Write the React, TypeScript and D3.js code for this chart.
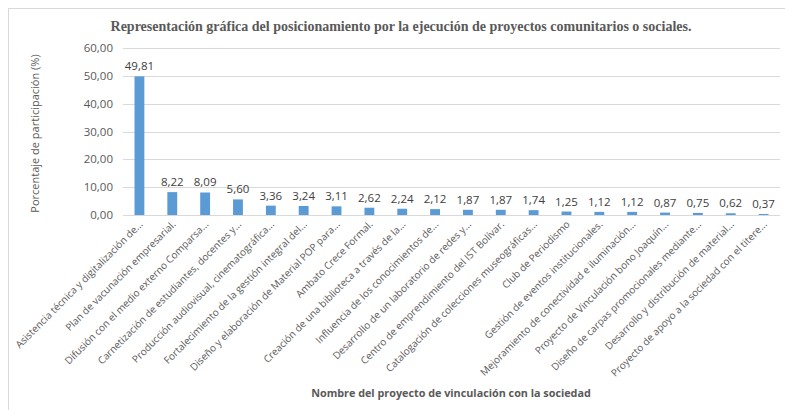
import React, { useEffect, useRef } from 'react';
import * as d3 from 'd3';

const categories = [
  'Asistencia técnica y digitalización de...',
  'Plan de vacunación empresarial.',
  'Difusión con el medio externo Comparsa...',
  'Carnetización de estudiantes, docentes y...',
  'Producción audiovisual, cinematográfica...',
  'Fortalecimiento de la gestión integral del...',
  'Diseño y elaboración de Material POP para...',
  'Ambato Crece Formal.',
  'Creación de una biblioteca a través de la...',
  'Influencia de los conocimientos de...',
  'Desarrollo de un laboratorio de redes y...',
  'Centro de emprendimiento del IST Bolívar.',
  'Catalogación de colecciones museográficas...',
  'Club de Periodismo',
  'Gestión de eventos institucionales.',
  'Mejoramiento de conectividad e iluminación...',
  'Proyecto de Vinculación bono Joaquín...',
  'Diseño de carpas promocionales mediante...',
  'Desarrollo y distribución de material...',
  'Proyecto de apoyo a la sociedad con el titere...',
];

const values = [
  49.81, 8.22, 8.09, 5.6, 3.36, 3.24, 3.11, 2.62, 2.24, 2.12,
  1.87, 1.87, 1.74, 1.25, 1.12, 1.12, 0.87, 0.75, 0.62, 0.37,
];

const yTicks = [0, 10, 20, 30, 40, 50, 60];

const title = 'Representación gráfica del posicionamiento por la ejecución de proyectos comunitarios o sociales.';
const yTitle = 'Porcentaje de participación (%)';
const xTitle = 'Nombre del proyecto de vinculación con la sociedad';

const App = () => {
  const ref = useRef<SVGSVGElement>(null);

  useEffect(() => {
    document.body.style.margin = '0';
    const width = 785;
    const height = 410;
    const margin = { top: 48, right: 5, bottom: 195, left: 123 };

    const svg = d3.select(ref.current);
    svg.selectAll('*').remove();

    const fmt = d3.formatLocale({
      decimal: ',',
      thousands: '.',
      grouping: [3],
      currency: ['', ''],
    }).format('.2f');

    const font = 'Open Sans, Liberation Sans, sans-serif';

    // chart frame
    svg.append('rect')
      .attr('x', 8.5)
      .attr('y', 8.5)
      .attr('width', width)
      .attr('height', height)
      .attr('fill', 'white')
      .attr('stroke', '#d9d9d9');

    const x = d3.scaleBand()
      .domain(categories)
      .range([margin.left, width - margin.right])
      .paddingInner(0.7)
      .paddingOuter(0.35);

    const y = d3.scaleLinear()
      .domain([0, 60])
      .range([height - margin.bottom, margin.top]);

    // gridlines
    svg.append('g')
      .selectAll('line')
      .data(yTicks)
      .enter()
      .append('line')
      .attr('x1', margin.left)
      .attr('x2', width - margin.right)
      .attr('y1', d => Math.round(y(d)) + 0.5)
      .attr('y2', d => Math.round(y(d)) + 0.5)
      .attr('stroke', '#d9d9d9')
      .attr('stroke-width', 1);

    // y tick labels
    svg.append('g')
      .selectAll('text')
      .data(yTicks)
      .enter()
      .append('text')
      .attr('x', margin.left - 10)
      .attr('y', d => y(d))
      .attr('dy', '0.35em')
      .attr('text-anchor', 'end')
      .style('font-family', font)
      .style('font-size', '11.5px')
      .style('fill', '#595959')
      .text(d => fmt(d));

    // bars
    svg.append('g')
      .selectAll('rect')
      .data(values)
      .enter()
      .append('rect')
      .attr('x', (d, i) => x(categories[i]) as number)
      .attr('y', d => y(d))
      .attr('width', x.bandwidth())
      .attr('height', d => y(0) - y(d))
      .attr('fill', '#5b9bd5');

    // value labels
    svg.append('g')
      .selectAll('text')
      .data(values)
      .enter()
      .append('text')
      .attr('x', (d, i) => (x(categories[i]) as number) + x.bandwidth() / 2)
      .attr('y', d => y(d) - 6)
      .attr('text-anchor', 'middle')
      .style('font-family', font)
      .style('font-size', '11.5px')
      .style('fill', '#404040')
      .text(d => fmt(d));

    // category labels
    svg.append('g')
      .selectAll('text')
      .data(categories)
      .enter()
      .append('text')
      .attr('transform', d => {
        const cx = (x(d) as number) + x.bandwidth() / 2 + 4;
        return `translate(${cx}, ${y(0) + 10}) rotate(-45)`;
      })
      .attr('text-anchor', 'end')
      .style('font-family', font)
      .style('font-size', '10px')
      .style('fill', '#595959')
      .text(d => d);

    // title
    svg.append('text')
      .attr('x', 401)
      .attr('y', 31)
      .attr('text-anchor', 'middle')
      .style('font-family', 'Liberation Serif, serif')
      .style('font-weight', 'bold')
      .style('font-size', '14px')
      .style('fill', '#595959')
      .text(title);

    // y axis title
    svg.append('text')
      .attr('transform', `translate(39, ${(margin.top + y(0)) / 2 + 2}) rotate(-90)`)
      .attr('text-anchor', 'middle')
      .style('font-family', font)
      .style('font-size', '11px')
      .style('fill', '#595959')
      .text(yTitle);

    // x axis title
    svg.append('text')
      .attr('x', 451)
      .attr('y', 397)
      .attr('text-anchor', 'middle')
      .style('font-family', font)
      .style('font-weight', 'bold')
      .style('font-size', '10.8px')
      .style('fill', '#595959')
      .text(xTitle);
  }, []);

  return <svg ref={ref} width={785} height={410} style={{ display: 'block' }} />;
};

export default App;
